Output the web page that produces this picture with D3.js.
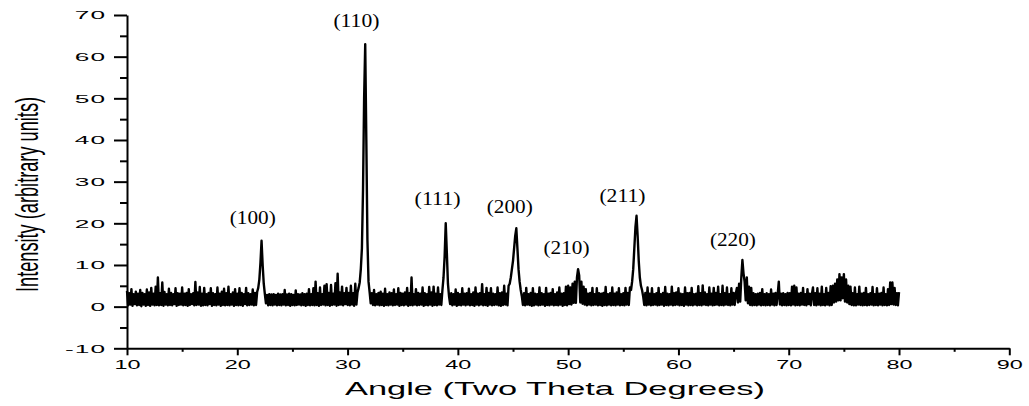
<!DOCTYPE html>
<html><head><meta charset="utf-8">
<script src="https://cdn.jsdelivr.net/npm/d3@7"></script>
<style>
html,body{margin:0;padding:0;background:#fff;}
svg{display:block;}
</style></head>
<body>
<svg id="chart" width="1029" height="406"></svg>
<script>
// ---- DATA ----
const angleStart = 10.0;   // first angle (2θ, degrees)
const angleStep = 0.1;     // sampling step (degrees)
// intensity, one row per degree (x.0 ... x.9)
const intensity = [
 3.8,0.3,3.2,0.5,4.2,0.2,3.0,0.6,3.6,0.3,
 3.1,0.4,4.0,0.1,3.3,0.5,3.0,0.2,4.1,0.4,
 3.4,0.2,4.5,0.5,3.1,0.3,4.8,0.4,7.0,0.3,
 3.2,0.4,5.8,0.2,3.5,0.5,3.0,0.3,4.3,0.4,
 3.3,0.3,3.0,0.6,4.4,0.2,3.2,0.4,3.1,0.5,
 4.6,0.3,3.1,0.4,3.3,0.2,4.2,0.4,3.0,0.6,
 3.2,0.3,5.9,0.4,3.4,0.5,4.7,0.2,3.1,0.3,
 4.5,0.4,3.0,0.3,3.3,0.6,4.4,0.2,3.2,0.4,
 3.0,0.3,4.6,0.5,3.1,0.2,3.6,0.4,4.3,0.3,
 3.2,0.4,4.8,0.3,3.0,0.5,3.4,0.2,4.2,0.4,
 3.1,0.3,4.4,0.4,3.3,0.2,3.0,0.6,4.5,0.3,
 3.2,0.4,3.0,0.5,4.1,0.3,3.3,0.4,3.5,4.5,
 6.5,10.5,15.8,10.0,5.5,3.0,0.8,2.8,0.3,3.0,
 0.4,2.9,0.3,3.0,0.5,2.8,0.3,3.1,0.4,2.9,
 0.3,3.0,0.5,4.0,0.3,2.9,0.4,3.1,0.2,3.0,
 0.4,2.8,0.3,3.9,0.4,3.0,0.5,2.9,0.3,3.2,
 0.4,3.0,0.2,3.1,0.4,4.2,0.3,3.0,0.4,4.4,
 0.3,6.0,0.4,3.2,0.2,4.6,0.4,3.0,0.5,5.0,
 0.3,5.4,0.4,3.3,0.2,5.2,0.4,3.1,0.5,5.6,
 0.2,7.9,0.4,3.4,0.5,4.8,0.3,3.2,0.6,4.5,
 0.4,3.3,0.3,5.0,0.5,3.2,0.2,5.5,0.5,3.4,
 4.5,5.8,9.0,14.0,28.0,50.0,63.0,40.0,16.0,6.0,
 3.5,0.8,3.2,0.4,4.0,0.3,3.0,0.5,3.3,0.3,
 3.6,0.4,3.1,0.2,4.3,0.4,3.0,0.3,3.4,0.5,
 3.2,0.3,4.1,0.4,3.0,0.5,4.4,0.2,3.3,0.4,
 3.1,0.3,3.4,0.5,4.5,0.2,3.2,0.4,7.0,0.3,
 3.0,0.5,4.2,0.3,3.3,0.4,3.1,0.5,4.6,0.2,
 3.2,0.4,3.0,0.3,4.7,0.5,3.4,0.2,4.8,0.4,
 3.1,0.3,4.6,0.5,3.0,0.4,4.0,7.0,12.0,20.0,
 13.0,5.5,2.5,0.6,3.2,0.3,3.0,0.5,4.1,0.2,
 3.3,0.4,3.0,0.3,4.4,0.5,3.1,0.3,3.2,0.5,
 4.3,0.3,3.0,0.4,3.4,0.2,4.6,0.5,3.1,0.3,
 3.2,0.5,5.4,0.3,3.0,0.4,4.5,0.2,3.3,0.5,
 4.4,0.3,3.1,0.4,3.0,0.5,4.6,0.3,3.2,0.2,
 3.4,0.4,5.0,0.5,3.1,0.3,5.0,5.5,7.0,9.0,
 11.0,14.0,17.0,18.8,14.0,9.0,6.0,4.0,2.5,0.4,
 3.2,0.3,4.5,0.5,3.0,0.4,3.3,0.2,4.4,0.3,
 3.1,0.5,3.0,0.3,4.6,0.4,3.2,0.5,3.0,0.2,
 4.5,0.4,3.1,0.3,3.3,0.5,4.2,0.3,3.0,0.4,
 3.4,0.3,4.6,0.5,3.1,0.2,3.2,0.4,4.8,0.3,
 5.0,0.6,4.6,0.5,5.5,0.9,6.0,0.9,7.0,9.0,
 7.5,1.0,6.0,0.7,4.8,0.5,4.2,0.3,3.1,0.5,
 3.3,0.3,4.5,0.4,3.0,0.5,4.4,0.3,3.2,0.4,
 3.1,0.2,3.3,0.4,4.7,0.3,3.0,0.5,3.2,0.3,
 4.6,0.4,3.1,0.3,3.4,0.5,4.4,0.3,3.0,0.4,
 3.2,0.3,4.5,0.5,3.3,0.4,4.6,4.0,6.0,9.0,
 14.0,19.0,21.8,17.0,11.0,7.0,5.0,4.0,2.5,0.4,
 3.3,0.3,4.6,0.5,3.1,0.3,4.4,0.4,3.0,0.5,
 3.2,0.3,4.5,0.4,3.0,0.5,3.3,0.2,4.7,0.4,
 3.1,0.3,3.0,0.5,4.8,0.3,3.2,0.4,3.4,0.5,
 4.4,0.3,3.1,0.4,3.0,0.2,4.6,0.5,3.2,0.3,
 3.3,0.4,4.5,0.3,3.0,0.5,3.1,0.3,4.9,0.4,
 3.2,0.3,5.1,0.5,3.4,0.4,3.0,0.3,4.6,0.5,
 3.1,0.3,4.5,0.4,3.3,0.5,4.8,0.3,3.0,0.4,
 5.0,0.3,3.2,0.5,4.6,0.4,3.0,0.3,4.4,0.5,
 3.3,0.4,3.1,4.5,1.0,5.5,1.2,7.0,11.2,8.0,
 6.0,1.5,7.0,0.8,4.8,0.4,4.5,0.3,3.2,0.4,
 3.0,0.3,3.1,0.5,3.3,0.3,4.2,0.4,3.0,0.3,
 3.2,0.4,3.0,0.3,4.1,0.5,3.1,0.3,3.3,0.4,
 3.0,6.0,0.5,3.1,0.3,3.2,0.4,3.0,0.3,3.3,
 0.4,3.2,0.3,4.8,0.5,5.0,0.3,4.6,0.4,3.1,
 0.3,3.3,0.5,4.5,0.4,3.0,0.3,4.2,0.6,3.1,
 0.3,3.0,4.6,0.4,3.2,0.3,4.4,0.5,3.1,0.3,
 4.8,0.4,3.0,0.3,4.5,0.5,3.3,0.3,4.9,0.4,
 5.0,1.0,5.5,1.2,6.5,1.5,7.8,1.5,7.0,2.0,
 7.8,1.2,6.5,1.0,5.0,0.6,4.8,0.4,3.2,0.3,
 4.6,0.3,3.0,0.5,4.8,0.4,3.1,0.3,3.3,0.4,
 4.5,0.3,3.0,0.4,3.2,0.5,4.7,0.3,3.0,0.4,
 4.4,0.3,3.1,0.5,3.3,0.3,4.6,0.4,3.0,0.3,
 4.2,0.4,5.8,0.6,5.8,0.5,4.5,0.4,3.2,0.3,
 3.5
];
const xTicks = [10,20,30,40,50,60,70,80,90];
const xMinorTicks = [15,25,35,45,55,65,75,85];
const yTicks = [-10,0,10,20,30,40,50,60,70];
const yMinorTicks = [-5,5,15,25,35,45,55,65];
const peakLabels = ["(100)","(110)","(111)","(200)","(210)","(211)","(220)"];
const peakLabelAngle = [21.40,30.80,38.16,44.71,49.85,54.92,64.94];
const peakLabelIntensity = [19.85,67.2,24.4,22.4,12.65,25.2,14.6];
const xTitle = "Angle (Two Theta Degrees)";
const yTitle = "Intensity (arbitrary units)";

// ---- DRAW ----
const svg = d3.select("#chart");
svg.append("rect").attr("width",1029).attr("height",406).attr("fill","#fff");

const x = d3.scaleLinear().domain([10,90]).range([127,1009.3]);
const y = d3.scaleLinear().domain([-10,70]).range([348.3,15]);

const pts = intensity.map((v,i)=>[angleStart + i*angleStep, v]);
const line = d3.line().x(d=>x(d[0])).y(d=>y(d[1]));
svg.append("path").datum(pts).attr("d",line)
  .attr("fill","none").attr("stroke","#000").attr("stroke-width",2.4)
  .attr("stroke-linejoin","round");

// axes
const axisFont = "'Liberation Sans', Arial, sans-serif";
const gx = svg.append("g").attr("transform",`translate(0,${y(-10)})`);
gx.call(d3.axisBottom(x).tickValues(xTicks).tickSize(7).tickSizeOuter(0).tickFormat(d3.format("d")));
gx.append("g").call(d3.axisBottom(x).tickValues(xMinorTicks).tickSize(3.5).tickFormat(""))
  .select(".domain").remove();
gx.selectAll("path.domain").attr("stroke","#000").attr("stroke-width",2);
gx.selectAll(".tick line").attr("stroke","#000").attr("stroke-width",2);
gx.selectAll(".tick text")
  .attr("y",null).attr("dy",null)
  .attr("transform","translate(0,21) scale(1.95,1)")
  .attr("font-family",axisFont).attr("font-size",12).attr("fill","#000");

const gy = svg.append("g").attr("transform",`translate(${x(10)},0)`);
gy.call(d3.axisLeft(y).tickValues(yTicks).tickSize(13).tickSizeOuter(0).tickFormat(d=>d<0?"-"+Math.abs(d):String(d)));
gy.append("g").call(d3.axisLeft(y).tickValues(yMinorTicks).tickSize(7).tickFormat(""))
  .select(".domain").remove();
gy.selectAll("path.domain").attr("stroke","#000").attr("stroke-width",2);
gy.selectAll(".tick line").attr("stroke","#000").attr("stroke-width",2);
gy.selectAll(".tick text")
  .attr("x",null).attr("dy","0.36em")
  .attr("transform","translate(-21,0) scale(2.5,1)")
  .style("letter-spacing","0.4px")
  .attr("font-family",axisFont).attr("font-size",10.5).attr("fill","#000");

// titles
svg.append("text").text(xTitle)
  .attr("x",555).attr("y",395)
  .attr("text-anchor","middle")
  .attr("font-family",axisFont).attr("font-size",18.6)
  .attr("textLength",420).attr("lengthAdjust","spacingAndGlyphs");

svg.append("text").text(yTitle)
  .attr("transform","translate(38,194.5) rotate(-90) scale(0.587,1)")
  .attr("text-anchor","middle")
  .attr("font-family",axisFont).attr("font-size",31);

// peak labels
svg.append("g").selectAll("text").data(peakLabels).join("text")
  .text(d=>d)
  .attr("x",(d,i)=>x(peakLabelAngle[i]))
  .attr("y",(d,i)=>y(peakLabelIntensity[i]))
  .attr("text-anchor","middle")
  .attr("font-family","'Liberation Serif', 'Times New Roman', serif")
  .attr("font-size",19.5)
  .attr("textLength",46).attr("lengthAdjust","spacingAndGlyphs");
</script>
</body></html>
